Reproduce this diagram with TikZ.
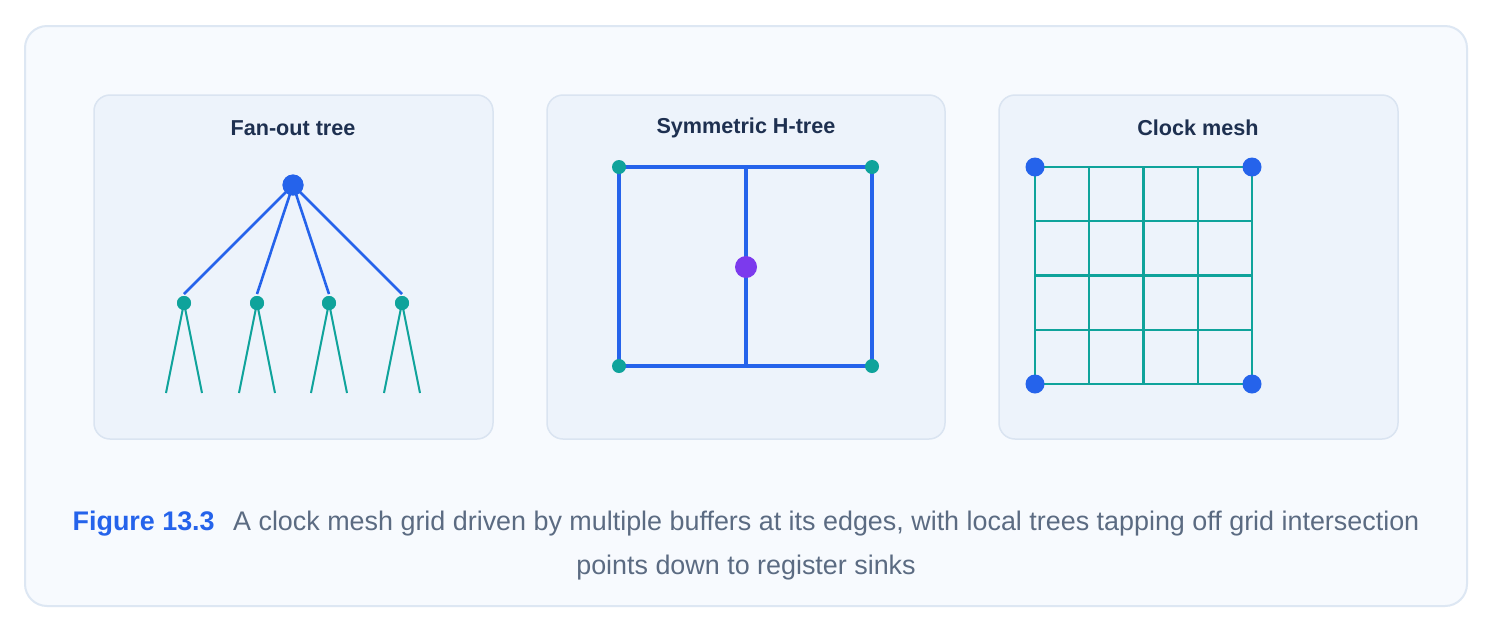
\documentclass[tikz,border=0pt]{standalone}
\usepackage{fontspec}
\setmainfont{Liberation Sans}
\definecolor{outerfill}{HTML}{F7FAFE}
\definecolor{outerline}{HTML}{DDE7F3}
\definecolor{panelfill}{HTML}{EDF3FB}
\definecolor{panelline}{HTML}{DAE4F1}
\definecolor{cblue}{HTML}{2563EB}
\definecolor{cteal}{HTML}{0FA39B}
\definecolor{cpurple}{HTML}{7C3AED}
\definecolor{ctitle}{HTML}{1E3050}
\definecolor{cgray}{HTML}{5B6B82}
\tikzset{
  panel/.style={draw=panelline, line width=1.5pt, fill=panelfill, rounded corners=16pt},
  ptitle/.style={font=\fontsize{21.6}{26}\selectfont\bfseries, text=ctitle, inner sep=0pt},
  bigdot/.style={circle, fill=cblue, inner sep=0pt, minimum size=21pt},
  tealdot/.style={circle, fill=cteal, inner sep=0pt, minimum size=14pt},
  meshdot/.style={circle, fill=cblue, inner sep=0pt, minimum size=19pt},
  purpdot/.style={circle, fill=cpurple, inner sep=0pt, minimum size=22pt},
  bluewire/.style={draw=cblue, line width=2.6pt},
  hwire/.style={draw=cblue, line width=3.2pt},
  tealwire/.style={draw=cteal, line width=2pt},
  meshwire/.style={draw=cteal, line width=2.2pt},
}
\begin{document}
\begin{tikzpicture}[x=1pt, y=-1pt]
\useasboundingbox (0,0) rectangle (1494,633);
\fill[white] (0,0) rectangle (1494,633);
\draw[draw=outerline, line width=2pt, fill=outerfill, rounded corners=22pt] (25,26) rectangle (1467,606);

% panels
\draw[panel] (94,95) rectangle (493,439);
\draw[panel] (547,95) rectangle (945,439);
\draw[panel] (999,95) rectangle (1398,439);

\node[ptitle] (t1) at (293,128) {Fan-out tree};
\node[ptitle] (t2) at (746,128) {Symmetric H-tree};
\node[ptitle] (t3) at (1198,128) {Clock mesh};

% Fan-out tree
\node[bigdot] (root) at (293,185) {};
\foreach \i/\x in {1/184,2/257,3/329,4/402}{
  \node[tealdot] (c\i) at (\x,303) {};
  \coordinate (l\i a) at (\x-18,393);
  \coordinate (l\i b) at (\x+18,393);
  \draw[bluewire] (root.center) -- (\x,294);
  \draw[tealwire] (c\i.center) -- (l\i a);
  \draw[tealwire] (c\i.center) -- (l\i b);
}
\foreach \i in {1,2,3,4}{\node[tealdot] at (c\i) {};}
\node[bigdot] at (root) {};

% H-tree
\coordinate (htl) at (619,167);
\coordinate (htr) at (872,167);
\coordinate (hbl) at (619,366);
\coordinate (hbr) at (872,366);
\coordinate (hmt) at (746,167);
\coordinate (hmb) at (746,366);
\draw[hwire] (htl) -- (htr) -- (hbr) -- (hbl) -- cycle;
\draw[hwire] (hmt) -- (hmb);
\node[purpdot] (hc) at (746,267) {};
\node[tealdot] (h1) at (htl) {};
\node[tealdot] (h2) at (htr) {};
\node[tealdot] (h3) at (hbl) {};
\node[tealdot] (h4) at (hbr) {};

% Clock mesh
\foreach \k in {0,1,2,3,4}{
  \draw[meshwire] (1035+54.25*\k,167) -- (1035+54.25*\k,384);
  \draw[meshwire] (1035,167+54.25*\k) -- (1252,167+54.25*\k);
}
\node[meshdot] (m1) at (1035,167) {};
\node[meshdot] (m2) at (1252,167) {};
\node[meshdot] (m3) at (1035,384) {};
\node[meshdot] (m4) at (1252,384) {};

% caption
\node[font=\fontsize{26.9}{44}\selectfont, text=cgray, align=center, inner sep=0pt] (cap) at (746,546)
{{\bfseries\color{cblue}Figure 13.3}\hspace{11pt} A clock mesh grid driven by multiple buffers at its edges, with local trees tapping off grid intersection\\points down to register sinks};
\end{tikzpicture}
\end{document}
